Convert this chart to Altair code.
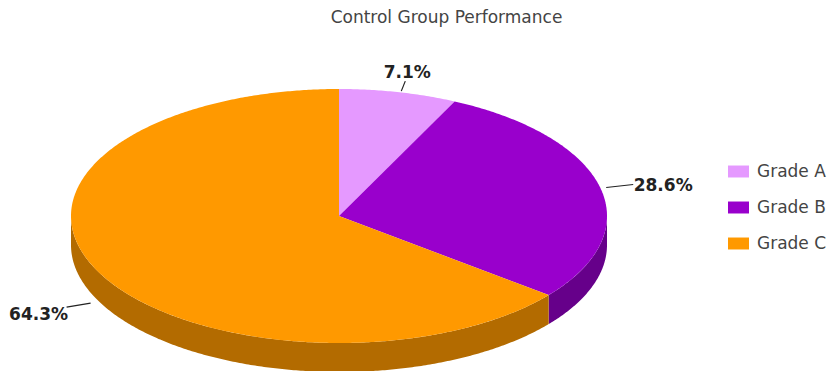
import math
import altair as alt

# Share of the control group in each grade
grades = ["Grade A", "Grade B", "Grade C"]
shares = [7.1, 28.6, 64.3]
top_colors = ["#e599ff", "#9900cc", "#ff9900"]
wall_colors = ["#8a5c99", "#66008a", "#b36b00"]

# Tilted-disc geometry, in pixels around the disc centre
RX, RY, DEPTH = 268, 127, 29


def rim(deg, drop=0.0):
    a = math.radians(deg)
    return [RX * math.sin(a), -RY * math.cos(a) + drop]


def sweep(start, end):
    steps = max(2, int(abs(end - start) * 2))
    return [start + (end - start) * i / steps for i in range(steps + 1)]


def feature(ring, **props):
    return {
        "type": "Feature",
        "properties": props,
        "geometry": {"type": "Polygon", "coordinates": [ring + [ring[0]]]},
    }


total = sum(shares)
tops, walls = [], []
mids = []
angle = 0.0
for grade, share, wall in zip(grades, shares, wall_colors):
    start, end = angle, angle + share / total * 360
    angle = end
    mids.append((start + end) / 2)
    tops.append(feature([[0, 0]] + [rim(d) for d in sweep(start, end)], grade=grade))
    # Only the front half of the rim shows a side wall
    lo, hi = max(start, 90), min(end, 270)
    if lo < hi:
        edge = sweep(lo, hi)
        ring = [rim(d) for d in edge] + [rim(d, DEPTH) for d in reversed(edge)]
        walls.append(feature(ring, wall=wall))

# Leader lines stand a little off the rim and run to beside each label
leader_gap = [(3, -1), (6, 0), (-7, 3)]
leader_out = [(7, -11), (33, -3), (-31, 7)]
label_out = [(9, -19), (63, -2), (-59, 15)]
leader_rows = []
for grade, share, mid, gap, lead, lab in zip(
    grades, shares, mids, leader_gap, leader_out, label_out
):
    x, y = rim(mid, DEPTH if 90 < mid < 270 else 0)
    leader_rows.append({
        "grade": grade,
        "label": f"{share:.1f}%",
        "x0": x + gap[0], "y0": y + gap[1],
        "x1": x + lead[0], "y1": y + lead[1],
        "lx": x + lab[0], "ly": y + lab[1],
    })

projection = alt.Projection(type="identity", scale=1, translate=[339, 216])

wall_layer = alt.Chart(alt.Data(values=walls)).mark_geoshape(strokeWidth=0).encode(
    fill=alt.Fill("properties.wall:N", scale=None, legend=None)
)

top_layer = alt.Chart(alt.Data(values=tops)).mark_geoshape(strokeWidth=0).encode(
    color=alt.Color(
        "properties.grade:N",
        scale=alt.Scale(domain=grades, range=top_colors),
        legend=alt.Legend(
            title=None,
            orient="none",
            legendX=728,
            legendY=161,
            symbolType="M-1,-0.57H1V0.57H-1Z",
            symbolSize=441,
            symbolStrokeWidth=0,
            symbolOpacity=1,
            labelFont="DejaVu Sans",
            labelFontSize=17,
            labelColor="#444444",
            labelOffset=8,
            rowPadding=17,
            labelLimit=200,
            padding=0,
        ),
    )
)

leaders = alt.Chart(alt.Data(values=leader_rows)).mark_rule(
    color="#222222", strokeWidth=1.2
).encode(
    longitude="x0:Q", latitude="y0:Q", longitude2="x1:Q", latitude2="y1:Q"
)

labels = alt.Chart(alt.Data(values=leader_rows)).mark_text(
    font="DejaVu Sans", fontSize=17, fontWeight="bold", color="#222222"
).encode(longitude="lx:Q", latitude="ly:Q", text="label:N")

chart = (
    alt.layer(wall_layer, top_layer, leaders, labels, projection=projection)
    .properties(
        width=837,
        height=371,
        padding=0,
        autosize=alt.AutoSizeParams(type="none"),
        title=alt.TitleParams(
            "Control Group Performance",
            font="DejaVu Sans",
            fontSize=17,
            fontWeight="normal",
            color="#444444",
            anchor="middle",
            frame="group",
            dx=28,
            dy=31,
        ),
    )
    .configure_view(stroke=None)
)

chart.save("out.html", embed_options={"renderer": "svg", "actions": False})
